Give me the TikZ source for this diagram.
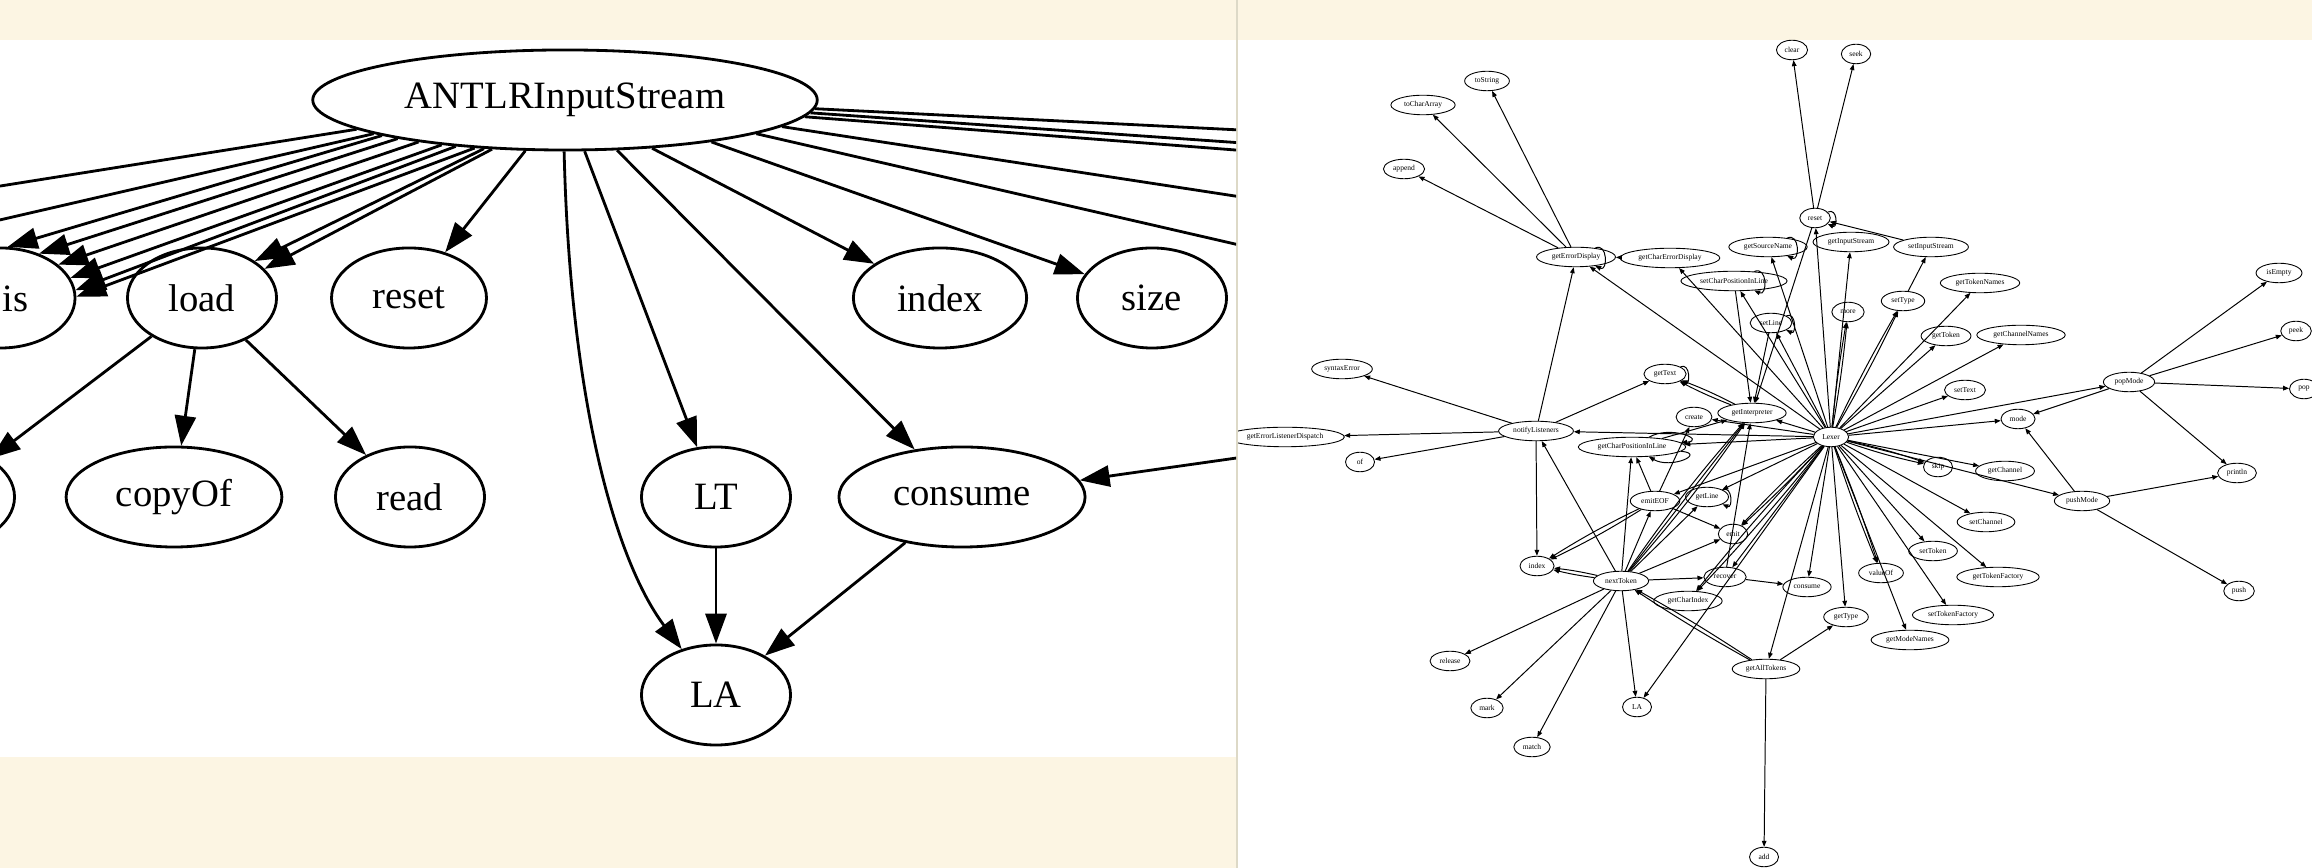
\documentclass[tikz,border=0pt]{standalone}
\usepackage{fontspec}
\setmainfont{Liberation Serif}
\usetikzlibrary{arrows.meta,shapes.geometric}
\definecolor{paper}{RGB}{252,245,227}
\definecolor{rulegray}{RGB}{221,217,199}
\tikzset{
  bignode/.style={ellipse, draw, line width=0.8pt, font=\fontsize{11}{13}\selectfont,
                  inner xsep=5.2pt, inner ysep=2pt, minimum width=1.49cm, minimum height=1cm},
  smallnode/.style={ellipse, draw, line width=0.25pt, font=\fontsize{2.14}{2.6}\selectfont,
                    inner xsep=1.05pt, inner ysep=0.4pt, minimum width=0.29cm, minimum height=0.195cm},
  bigarrow/.style={-{Triangle[length=8.5pt,width=6pt]}, line width=0.8pt},
  smallarrow/.style={-{Triangle[length=1.7pt,width=1.3pt]}, line width=0.28pt},
  selfloop/.style={smallarrow, out=25, in=-25, looseness=2, min distance=0.11cm},
}
\begin{document}
\begin{tikzpicture}[x=0.01cm, y=-0.01cm]
\useasboundingbox (0,0) rectangle (2312,868);
\fill[paper] (0,0) rectangle (2312,868);
\fill[white] (0,40) rectangle (1236,757);
\fill[white] (1238,40) rectangle (2312,868);
\draw[rulegray, line width=0.6pt] (1237,0) -- (1237,868);

\begin{scope}
\clip (0,40) rectangle (1236,757);
\node[bignode] (antlr) at (565,100) {ANTLRInputStream};
\node[bignode] (thisnode) at (0.5,298) {\phantom{th}is};
\node[bignode] (load) at (202,298) {load};
\node[bignode] (resetL) at (409,298) {reset};
\node[bignode] (indexL) at (940,298) {index};
\node[bignode] (size) at (1152,298) {size};
\node[bignode] (offnode) at (-60,497) {};
\node[bignode] (copyof) at (174,497) {copyOf};
\node[bignode] (read) at (410,497) {read};
\node[bignode] (lt) at (716,497) {LT};
\node[bignode] (consumeL) at (962,497) {consume};
\node[bignode] (laL) at (716,695) {LA};
\coordinate (offa) at (-100,202);
\coordinate (offb) at (-100,243);
\coordinate (offr1) at (1300,133);
\coordinate (offr2) at (1300,147);
\coordinate (offr3) at (1300,155);
\coordinate (offr4) at (1300,206);
\coordinate (offr5) at (1300,259);
\coordinate (offc) at (1300,449);
\draw[bigarrow] (antlr.-172) -- (offa);
\draw[bigarrow] (antlr.-170) -- (offb);
\draw[bigarrow] (antlr.-169) -- (thisnode.82);
\draw[bigarrow] (antlr.-167) -- (thisnode.49);
\draw[bigarrow] (antlr.-164) -- (thisnode.30);
\draw[bigarrow] (antlr.-160) -- (thisnode.16);
\draw[bigarrow] (antlr.-157) -- (thisnode.6);
\draw[bigarrow] (antlr.-152) -- (thisnode.1);
\draw[bigarrow] (antlr.-149) -- (load.35);
\draw[bigarrow] (antlr.-146) -- (load.25);
\draw[bigarrow] (antlr.-128) -- (resetL);
\draw[bigarrow] (antlr.-91) .. controls (570,400) and (615,560) .. (laL);
\draw[bigarrow] (antlr.-69) -- (lt);
\draw[bigarrow] (antlr.-44) -- (consumeL);
\draw[bigarrow] (antlr.-29) -- (indexL);
\draw[bigarrow] (antlr.-16) -- (size);
\draw[bigarrow] (antlr.-2) -- (offr1);
\draw[bigarrow] (antlr.-3) -- (offr2);
\draw[bigarrow] (antlr.-4) -- (offr3);
\draw[bigarrow] (antlr.-7) -- (offr4);
\draw[bigarrow] (antlr.-10) -- (offr5);
\draw[bigarrow] (offc) -- (consumeL);
\draw[bigarrow] (load) -- (offnode);
\draw[bigarrow] (load) -- (copyof);
\draw[bigarrow] (load) -- (read);
\draw[bigarrow] (lt) -- (laL);
\draw[bigarrow] (consumeL) -- (laL);
\end{scope}

\begin{scope}
\clip (1238,40) rectangle (2312,868);
\node[smallnode] (clear) at (1792,50) {clear};
\node[smallnode] (seek) at (1856,54) {seek};
\node[smallnode] (tostring) at (1487,81) {toString};
\node[smallnode] (tochararray) at (1423,105) {toCharArray};
\node[smallnode] (append) at (1404,169) {append};
\node[smallnode] (resetR) at (1815,218) {reset};
\node[smallnode] (getsourcename) at (1768,247) {getSourceName};
\node[smallnode] (getinputstream) at (1851,242) {getInputStream};
\node[smallnode] (setinputstream) at (1931,247) {setInputStream};
\node[smallnode] (geterrordisplay) at (1576,257) {getErrorDisplay};
\node[smallnode] (getcharerrordisplay) at (1670,258) {getCharErrorDisplay};
\node[smallnode] (setcharpos) at (1734,281) {setCharPositionInLine};
\node[smallnode] (isempty) at (2279,273) {isEmpty};
\node[smallnode] (gettokennames) at (1980,283) {getTokenNames};
\node[smallnode] (settype) at (1903,301) {setType};
\node[smallnode] (more) at (1848,312) {more};
\node[smallnode] (setline) at (1771,323) {setLine};
\node[smallnode] (gettoken) at (1946,336) {getToken};
\node[smallnode] (getchannelnames) at (2021,335) {getChannelNames};
\node[smallnode] (peek) at (2296,331) {peek};
\node[smallnode] (syntaxerror) at (1342,369) {syntaxError};
\node[smallnode] (gettext) at (1665,374) {getText};
\node[smallnode] (popmode) at (2129,382) {popMode};
\node[smallnode] (pop) at (2304,389) {pop};
\node[smallnode] (settext) at (1965,390) {setText};
\node[smallnode] (mode) at (2018,419) {mode};
\node[smallnode] (geterrlistener) at (1285,437) {getErrorListenerDispatch};
\node[smallnode] (notify) at (1536,431) {notifyListeners};
\node[smallnode] (create) at (1694,417) {create};
\node[smallnode] (getinterp) at (1752,413) {getInterpreter};
\node[smallnode] (lexer) at (1831,437) {Lexer};
\node[smallnode] (skip) at (1938,467) {skip};
\node[smallnode] (getchannel) at (2005,471) {getChannel};
\node[smallnode] (pushmode) at (2082,501) {pushMode};
\node[smallnode] (println) at (2237,473) {println};
\node[smallnode] (of) at (1360,462) {of};
\node[smallnode] (getcharpos) at (1632,447) {getCharPositionInLine};
\node[smallnode] (emiteof) at (1655,501) {emitEOF};
\node[smallnode] (getline) at (1707,497) {getLine};
\node[smallnode] (setchannel) at (1986,522) {setChannel};
\node[smallnode] (emit) at (1733,534) {emit};
\node[smallnode] (indexR) at (1537,566) {index};
\node[smallnode] (nexttoken) at (1621,581) {nextToken};
\node[smallnode] (recover) at (1725,577) {recover};
\node[smallnode] (consumeR) at (1807,587) {consume};
\node[smallnode] (settoken) at (1933,551) {setToken};
\node[smallnode] (gettokenfactory) at (1998,577) {getTokenFactory};
\node[smallnode] (valueof) at (1881,573) {valueOf};
\node[smallnode] (getcharindex) at (1688,601) {getCharIndex};
\node[smallnode] (gettype) at (1846,617) {getType};
\node[smallnode] (settokenfactory) at (1953,615) {setTokenFactory};
\node[smallnode] (getmodenames) at (1910,640) {getModeNames};
\node[smallnode] (release) at (1450,661) {release};
\node[smallnode] (getalltokens) at (1766,669) {getAllTokens};
\node[smallnode] (mark) at (1487,708) {mark};
\node[smallnode] (laR) at (1637,707) {LA};
\node[smallnode] (match) at (1532,747) {match};
\node[smallnode] (add) at (1764,857) {add};
\node[smallnode] (push) at (2239,591) {push};

\draw[smallarrow] (lexer) -- (resetR);
\draw[smallarrow] (lexer) -- (getsourcename);
\draw[smallarrow] (lexer) -- (getinputstream);
\draw[smallarrow] (lexer) to[bend left=2] (settype);
\draw[smallarrow] (lexer) to[bend right=2] (settype);
\draw[smallarrow] (lexer) to[bend left=2] (more);
\draw[smallarrow] (lexer) to[bend right=2] (more);
\draw[smallarrow] (lexer) -- (gettoken);
\draw[smallarrow] (lexer) -- (gettokennames);
\draw[smallarrow] (lexer) -- (getchannelnames);
\draw[smallarrow] (lexer) -- (settext);
\draw[smallarrow] (lexer) -- (popmode);
\draw[smallarrow] (lexer) -- (mode);
\draw[smallarrow] (lexer) to[bend left=3] (skip);
\draw[smallarrow] (lexer) to[bend right=3] (skip);
\draw[smallarrow] (lexer) -- (getchannel);
\draw[smallarrow] (lexer) -- (pushmode);
\draw[smallarrow] (lexer) -- (setchannel);
\draw[smallarrow] (lexer) -- (settoken);
\draw[smallarrow] (lexer) -- (gettokenfactory);
\draw[smallarrow] (lexer) to[bend left=2] (valueof);
\draw[smallarrow] (lexer) to[bend right=2] (valueof);
\draw[smallarrow] (lexer) -- (consumeR);
\draw[smallarrow] (lexer) -- (gettype);
\draw[smallarrow] (lexer) -- (settokenfactory);
\draw[smallarrow] (lexer) -- (getmodenames);
\draw[smallarrow] (lexer) -- (getalltokens);
\draw[smallarrow] (lexer) -- (laR);
\draw[smallarrow] (lexer) to[bend left=2] (emit);
\draw[smallarrow] (lexer) to[bend right=2] (emit);
\draw[smallarrow] (lexer) -- (recover);
\draw[smallarrow] (lexer) to[bend left=2] (getcharindex);
\draw[smallarrow] (lexer) to[bend right=2] (getcharindex);
\draw[smallarrow] (lexer) -- (emiteof);
\draw[smallarrow] (lexer) -- (getline);
\draw[smallarrow] (lexer) -- (getcharpos);
\draw[smallarrow] (lexer) -- (notify);
\draw[smallarrow] (lexer) -- (getinterp);
\draw[smallarrow] (lexer) -- (create);
\draw[smallarrow] (lexer) -- (geterrordisplay);
\draw[smallarrow] (lexer) -- (getcharerrordisplay);
\draw[smallarrow] (lexer) -- (setcharpos);
\draw[smallarrow] (lexer) -- (setline);
\draw[smallarrow] (resetR) -- (clear);
\draw[smallarrow] (resetR) -- (seek);
\draw[smallarrow] (resetR) -- (getinterp);
\draw[selfloop] (resetR) to (resetR);
\draw[smallarrow] (setinputstream) -- (resetR);
\draw[selfloop] (getsourcename) to (getsourcename);
\draw[smallarrow] (settype) -- (setinputstream);
\draw[smallarrow] (popmode) -- (mode);
\draw[smallarrow] (popmode) -- (isempty);
\draw[smallarrow] (popmode) -- (peek);
\draw[smallarrow] (popmode) -- (pop);
\draw[smallarrow] (popmode) -- (println);
\draw[smallarrow] (pushmode) -- (mode);
\draw[smallarrow] (pushmode) -- (println);
\draw[smallarrow] (pushmode) -- (push);
\draw[smallarrow] (getalltokens) -- (gettype);
\draw[smallarrow] (getalltokens) -- (add);
\draw[smallarrow] (getalltokens) to[bend left=2] (nexttoken);
\draw[smallarrow] (getalltokens) to[bend right=2] (nexttoken);
\draw[smallarrow] (recover) -- (consumeR);
\draw[smallarrow] (recover) -- (getinterp);
\draw[smallarrow] (nexttoken) -- (recover);
\draw[smallarrow] (nexttoken) -- (emit);
\draw[smallarrow] (nexttoken) -- (emiteof);
\draw[smallarrow] (nexttoken) -- (getline);
\draw[smallarrow] (nexttoken) -- (getcharpos);
\draw[smallarrow] (nexttoken) to[bend left=3] (indexR);
\draw[smallarrow] (nexttoken) to[bend right=3] (indexR);
\draw[smallarrow] (nexttoken) -- (notify);
\draw[smallarrow] (nexttoken) to[bend left=3] (getinterp);
\draw[smallarrow] (nexttoken) -- (getinterp);
\draw[smallarrow] (nexttoken) to[bend right=3] (getinterp);
\draw[smallarrow] (nexttoken) -- (release);
\draw[smallarrow] (nexttoken) -- (mark);
\draw[smallarrow] (nexttoken) -- (match);
\draw[smallarrow] (nexttoken) -- (laR);
\draw[smallarrow] (emiteof) -- (getcharpos);
\draw[smallarrow] (emiteof) -- (create);
\draw[smallarrow] (emiteof) -- (emit);
\draw[smallarrow] (emiteof) to[bend left=3] (indexR);
\draw[smallarrow] (emiteof) to[bend right=3] (indexR);
\draw[smallarrow] (getcharpos) -- (getinterp);
\draw[selfloop] (getcharpos) to[out=30, in=5] (getcharpos);
\draw[selfloop] (getcharpos) to[out=-5, in=-30] (getcharpos);
\draw[selfloop] (getline) to (getline);
\draw[smallarrow] (getinterp) to[bend left=3] (gettext);
\draw[smallarrow] (getinterp) to[bend right=3] (gettext);
\draw[selfloop] (gettext) to (gettext);
\draw[smallarrow] (notify) -- (gettext);
\draw[smallarrow] (notify) -- (syntaxerror);
\draw[smallarrow] (notify) -- (geterrlistener);
\draw[smallarrow] (notify) -- (of);
\draw[smallarrow] (notify) -- (indexR);
\draw[smallarrow] (notify) -- (geterrordisplay);
\draw[smallarrow] (geterrordisplay) -- (append);
\draw[smallarrow] (geterrordisplay) -- (tochararray);
\draw[smallarrow] (geterrordisplay) -- (tostring);
\draw[selfloop] (geterrordisplay) to (geterrordisplay);
\draw[smallarrow] (getcharerrordisplay) -- (geterrordisplay);
\draw[smallarrow] (setcharpos) -- (getinterp);
\draw[selfloop] (setcharpos) to (setcharpos);
\draw[smallarrow] (setline) -- (getinterp);
\draw[selfloop] (setline) to (setline);
\end{scope}
\end{tikzpicture}
\end{document}
